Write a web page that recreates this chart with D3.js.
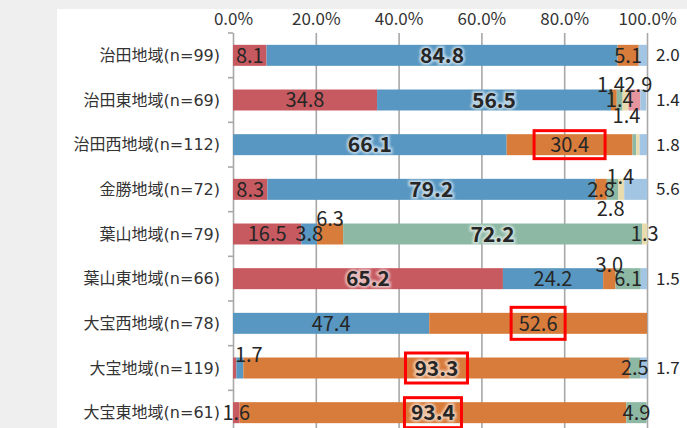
<!DOCTYPE html>
<html>
<head>
<meta charset="utf-8">
<script src="https://cdn.jsdelivr.net/npm/d3@7"></script>
<style>
  body { margin: 0; background: #efefef; }
  svg { display: block; font-family: "Noto Sans CJK JP", "Noto Sans", sans-serif; }
</style>
</head>
<body>
<div id="chart"></div>
<script>
// chart data
var categories = ["治田地域(n=99)", "治田東地域(n=69)", "治田西地域(n=112)", "金勝地域(n=72)",
  "葉山地域(n=79)", "葉山東地域(n=66)", "大宝西地域(n=78)", "大宝地域(n=119)", "大宝東地域(n=61)"];
var seriesNames = ["項目1", "項目2", "項目3", "項目4", "項目5", "項目6", "無回答"];
var s1 = [8.1, 34.8, 0, 8.3, 16.5, 65.2, 0, 0.8, 1.6];
var s2 = [84.8, 56.5, 66.1, 79.2, 3.8, 24.2, 47.4, 1.7, 0];
var s3 = [5.1, 1.4, 30.4, 2.8, 6.3, 3.0, 52.6, 93.3, 93.4];
var s4 = [0, 1.4, 0.9, 2.8, 72.2, 6.1, 0, 2.5, 4.9];
var s5 = [0, 1.4, 0.8, 1.4, 1.3, 0, 0, 0, 0];
var s6 = [0, 2.9, 0, 0, 0, 0, 0, 0, 0];
var s7 = [2.0, 1.4, 1.8, 5.6, 0, 1.5, 0, 1.7, 0];
var tickValues = [0, 20, 40, 60, 80, 100];

var colors = ["#c65a60", "#5897c1", "#d87c3c", "#8cb8a4", "#e8dcae", "#e6959f", "#a2c5e3"];

// label tweaks for the crowded small segments: [row, series, dx, dy]
var labelMoves = [
  [1, 2, -3, -15], [1, 4, 1, 16], [1, 5, 4, -15],
  [3, 3, -2, 19], [3, 4, -1, -13],
  [4, 2, 0, -15], [5, 2, 0, -14], [7, 1, 9, -13]
];
// red annotation boxes: [row, series, width, height]
var boxes = [[2, 2, 71, 28], [6, 2, 54, 32], [7, 2, 62, 30], [8, 2, 57, 30]];

var svgWidth = 687, svgHeight = 428;
var panel = { left: 57, top: 9 };
var plot = { left: 233, right: 647, top: 33, bottom: 435 };

var svg = d3.select("#chart").append("svg")
  .attr("width", svgWidth)
  .attr("height", svgHeight);

var defs = svg.append("defs");
defs.append("filter").attr("id", "soft")
  .append("feGaussianBlur").attr("stdDeviation", 1.3);

svg.append("rect")
  .attr("x", panel.left).attr("y", panel.top)
  .attr("width", svgWidth - panel.left).attr("height", svgHeight - panel.top)
  .attr("fill", "#fff");

var x = d3.scaleLinear().domain([0, 100]).range([plot.left, plot.right]);
var y = d3.scaleBand().domain(categories)
  .range([plot.top, plot.bottom])
  .paddingInner(0.53).paddingOuter(0.265);

// build stacked table
var allSeries = [s1, s2, s3, s4, s5, s6, s7];
var table = categories.map(function(c, i) {
  var row = { cat: c };
  seriesNames.forEach(function(n, j) { row[n] = allSeries[j][i]; });
  return row;
});
var stacked = d3.stack().keys(seriesNames)(table);

// grid + top axis
var topAxis = d3.axisTop(x)
  .tickValues(tickValues)
  .tickSize(-(svgHeight - plot.top))
  .tickPadding(8)
  .tickFormat(function(d) { return d.toFixed(1) + "%"; });

var gx = svg.append("g")
  .attr("transform", "translate(0," + plot.top + ")")
  .call(topAxis);
gx.select(".domain").remove();
gx.selectAll("line").attr("stroke", "#a8a8a8").attr("stroke-width", 1.6);
gx.selectAll("text")
  .attr("fill", "#333")
  .style("font-size", "17px")
  .style("font-family", "'Noto Sans CJK JP', sans-serif");

// category boundary ticks
var step = y.step();
svg.append("g").selectAll("line")
  .data(d3.range(categories.length + 1))
  .enter().append("line")
  .attr("x1", plot.left - 5).attr("x2", plot.left)
  .attr("y1", function(i) { return plot.top + i * step; })
  .attr("y2", function(i) { return plot.top + i * step; })
  .attr("stroke", "#a8a8a8").attr("stroke-width", 1.6);

// category labels
svg.append("g").selectAll("text")
  .data(categories)
  .enter().append("text")
  .attr("x", 220)
  .attr("y", function(d) { return y(d) + y.bandwidth() / 2; })
  .attr("dy", "0.36em")
  .attr("text-anchor", "end")
  .attr("fill", "#333")
  .style("font-size", "16px")
  .style("font-family", "'DejaVu Sans', 'Noto Sans CJK JP', sans-serif")
  .text(function(d) { return d; });

// bars
var layers = svg.append("g").selectAll("g")
  .data(stacked)
  .enter().append("g")
  .attr("fill", function(d, i) { return colors[i]; });

layers.selectAll("rect")
  .data(function(d) { return d; })
  .enter().append("rect")
  .attr("x", function(d) { return x(d[0]); })
  .attr("y", function(d) { return y(d.data.cat); })
  .attr("width", function(d) { return Math.max(0, x(d[1]) - x(d[0])); })
  .attr("height", y.bandwidth());

// labels
var labels = [];
stacked.forEach(function(layer, j) {
  layer.forEach(function(d, i) {
    var v = d.data[layer.key];
    if (v < 1) return;
    var lab = { v: v, row: i, s: j, big: v > 55 };
    lab.cy = y(d.data.cat) + y.bandwidth() / 2;
    if (j === seriesNames.length - 1) {
      lab.x = 656; lab.anchor = "start"; lab.size = 17;
    } else {
      lab.x = (x(d[0]) + x(d[1])) / 2; lab.anchor = "middle"; lab.size = 20;
    }
    labelMoves.forEach(function(m) {
      if (m[0] === i && m[1] === j) { lab.x += m[2]; lab.cy += m[3]; }
    });
    labels.push(lab);
  });
});

var lg = svg.append("g");
lg.selectAll("text.halo")
  .data(labels.filter(function(d) { return d.big; }))
  .enter().append("text")
  .attr("class", "halo")
  .attr("x", function(d) { return d.x; })
  .attr("y", function(d) { return d.cy; })
  .attr("dy", "0.36em")
  .attr("text-anchor", "middle")
  .style("font-size", "21px")
  .style("font-weight", "bold")
  .attr("fill", "#fff")
  .attr("stroke", "#fff")
  .attr("stroke-width", 4)
  .attr("opacity", 0.6)
  .attr("filter", "url(#soft)")
  .text(function(d) { return d.v.toFixed(1); });

lg.selectAll("text.lab")
  .data(labels)
  .enter().append("text")
  .attr("class", "lab")
  .attr("x", function(d) { return d.x; })
  .attr("y", function(d) { return d.cy; })
  .attr("dy", "0.36em")
  .attr("text-anchor", function(d) { return d.anchor; })
  .attr("fill", "#262626")
  .style("font-size", function(d) { return (d.big ? 21 : d.size) + "px"; })
  .style("font-weight", function(d) { return d.big ? "bold" : "normal"; })
  .text(function(d) { return d.v.toFixed(1); });

// red boxes
svg.append("g").selectAll("rect")
  .data(boxes)
  .enter().append("rect")
  .attr("x", function(b) {
    var d = stacked[b[1]][b[0]];
    return (x(d[0]) + x(d[1])) / 2 - b[2] / 2;
  })
  .attr("y", function(b) { return y(categories[b[0]]) + y.bandwidth() / 2 - b[3] / 2; })
  .attr("width", function(b) { return b[2]; })
  .attr("height", function(b) { return b[3]; })
  .attr("fill", "none")
  .attr("stroke", "#f00")
  .attr("stroke-width", 3);
</script>
</body>
</html>
